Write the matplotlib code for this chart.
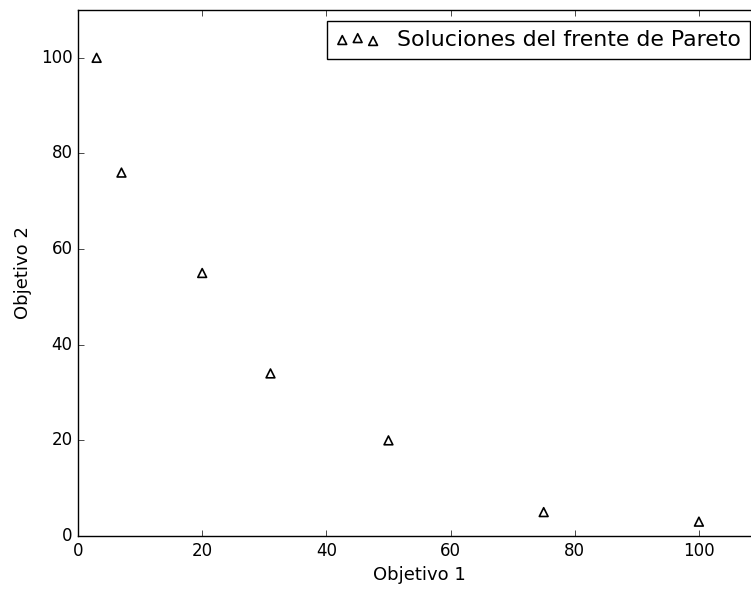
import matplotlib
matplotlib.use('Agg')
import matplotlib.pyplot as plt

# soluciones del frente de Pareto
objetivo1 = [3, 7, 20, 31, 50, 75, 100]
objetivo2 = [100, 76, 55, 34, 20, 5, 3]

plt.style.use('classic')

fig = plt.figure(figsize=(7.51, 5.90), dpi=100, facecolor='white')
ax = fig.add_axes([78 / 751, 54 / 590, 683 / 751, 526 / 590])

ax.scatter(objetivo1, objetivo2, marker='^', s=40, facecolors='none',
           edgecolors='black', linewidths=1.2,
           label='Soluciones del frente de Pareto')

ax.set_xlim(0, 110)
ax.set_ylim(0, 110)
ax.set_xticks([0, 20, 40, 60, 80, 100])
ax.set_yticks([0, 20, 40, 60, 80, 100])
ax.set_xlabel('Objetivo 1', fontsize=13)
ax.set_ylabel('Objetivo 2', fontsize=13, labelpad=6)
ax.legend(loc='upper right', fontsize=15.85, scatterpoints=3)

fig.savefig('out.png', dpi=100, facecolor='white')
